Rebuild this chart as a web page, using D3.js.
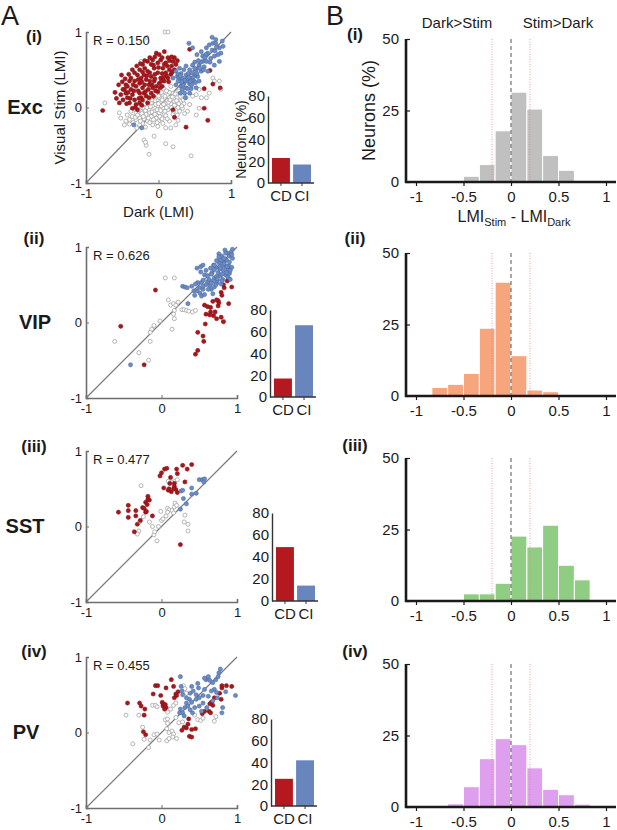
<!DOCTYPE html>
<html>
<head>
<meta charset="utf-8">
<script src="https://cdn.jsdelivr.net/npm/d3@7"></script>
<style>
  body { margin: 0; background: #fff; }
  svg text { font-family: "Liberation Sans", Arial, Helvetica, sans-serif !important; }
</style>
</head>
<body>
<div id="chart"></div>
<script>
// ---- data ----
var cellTypes = ["Exc", "VIP", "SST", "PV"];
var romans = ["(i)", "(ii)", "(iii)", "(iv)"];
var rValues = ["0.150", "0.626", "0.477", "0.455"];

var barCategories = ["CD", "CI"];
var cdPercent = [23, 17, 49, 25];
var ciPercent = [17, 66, 14, 42];

// histogram bin edges (LMI_Stim - LMI_Dark) and % neurons per bin
var binEdges = [-0.833, -0.667, -0.5, -0.333, -0.167, 0, 0.167, 0.333, 0.5, 0.667, 0.833];
var excHist = [0, 0, 2.0, 6.1, 17.9, 31.4, 25.5, 9.3, 4.1, 0];
var vipHist = [3.0, 4.1, 7.9, 23.7, 39.8, 14.1, 2.1, 1.5, 0, 0];
var sstHist = [0, 0, 2.5, 2.5, 6.2, 22.7, 18.9, 26.5, 12.5, 7.4];
var pvHist  = [0, 1.1, 7.1, 16.9, 23.9, 21.8, 13.7, 6.2, 4.3, 1.0];
var histColors = ["#c0c0c0", "#f6a57c", "#8fcd82", "#dea0ee"];

var histXTicks = [-1, -0.5, 0, 0.5, 1];
var histYTicks = [0, 25, 50];
var barYTicks = [0, 20, 40, 60, 80];
var scatterTicks = [-1, 0, 1];

// scatter points [Dark LMI, Visual Stim LMI]
var excGray = [[-0.47,-0.23],[-0.40,-0.16],[-0.43,-0.10],[-0.36,-0.12],[-0.31,-0.07],[-0.26,-0.14],[-0.24,-0.05],[-0.20,-0.01],[-0.17,-0.09],[-0.22,-0.21],[-0.15,-0.18],[-0.10,-0.12],[-0.13,-0.03],[-0.08,0.02],[-0.06,-0.05],[-0.03,-0.14],[0.01,-0.07],[-0.01,0.02],[0.03,0.08],[0.06,-0.01],[0.08,-0.09],[0.13,-0.03],[0.10,0.06],[0.15,0.13],[0.17,0.05],[0.22,0.08],[0.26,0.13],[0.24,0.02],[0.31,0.08],[0.33,-0.01],[0.29,-0.05],[0.20,-0.09],[0.15,-0.18],[0.06,-0.21],[-0.01,-0.25],[-0.08,-0.23],[0.10,-0.27],[-0.06,0.13],[0.06,0.17],[0.01,0.13],[0.13,0.21],[0.20,0.19],[0.17,0.28],[-0.03,0.06],[-0.10,0.06],[-0.26,-0.23],[-0.31,-0.16],[0.10,-0.11],[0.38,0.13],[0.43,0.04],[0.47,0.15],[0.52,0.17],[0.56,0.24],[0.59,0.13],[0.56,-0.01],[0.52,-0.10],[0.66,0.13],[0.70,0.19],[0.75,0.39],[0.77,0.35],[0.24,-0.23],[0.17,-0.27],[-0.74,0.06],[-0.54,-0.07],[-0.52,-0.14],[-0.20,-0.43],[-0.17,-0.50],[-0.06,-0.38],[0.10,-0.48],[0.20,-0.52],[-0.13,-0.62],[0.45,-0.64],[-0.18,-0.46],[0.09,1.0],[0.13,1.0],[-0.16,0.93],[-0.24,0.61],[0.03,0.61],[0.84,0.35],[0.86,0.24],[-0.33,-0.02],[-0.19,0.05],[-0.12,-0.07],[0.04,0.02],[0.12,0.09],[0.19,-0.02],[0.27,0.00],[0.35,0.05],[-0.05,0.09],[0.00,-0.18],[-0.20,-0.15],[0.07,0.25],[0.23,0.18],[-0.28,0.00],[0.40,-0.05],[-0.40,-0.22],[-0.14,0.08],[0.28,0.22],
  [-0.45,-0.18],[-0.38,-0.05],[-0.35,-0.20],[-0.32,-0.13],[-0.29,-0.10],[-0.27,-0.03],[-0.25,-0.18],[-0.23,-0.08],[-0.21,-0.12],[-0.18,-0.04],[-0.16,0.00],[-0.14,-0.14],[-0.12,-0.20],[-0.11,0.01],[-0.09,-0.06],[-0.07,-0.16],[-0.05,-0.09],[-0.04,0.04],[-0.02,-0.03],[0.00,0.05],[0.02,-0.12],[0.03,-0.04],[0.05,0.10],[0.07,0.04],[0.09,-0.05],[0.11,0.00],[0.12,-0.15],[0.14,0.07],[0.16,0.10],[0.18,0.00],[0.19,0.14],[0.21,-0.05],[0.22,0.03],[0.25,0.09],[0.26,-0.10],[0.28,0.05],[0.30,0.15],[0.32,0.02],[0.34,0.10],[0.36,-0.08],[0.27,-0.17],[0.05,-0.15],[-0.02,-0.20],[-0.18,-0.26],[-0.30,-0.27],[0.00,0.15],[0.09,0.15],[-0.09,0.10],[0.15,0.20],[0.11,0.22],[0.04,0.20]];
var excRed = [[-0.77,-0.04],[-0.51,0.43],[-0.47,0.24],[-0.45,0.19],[-0.43,0.13],[-0.40,0.06],[-0.54,0.06],[-0.49,0.10],[-0.38,0.24],[-0.36,0.17],[-0.33,0.10],[-0.31,0.04],[-0.29,-0.03],[-0.36,-0.01],[-0.26,0.06],[-0.24,0.13],[-0.26,0.19],[-0.31,0.28],[-0.33,0.35],[-0.26,0.32],[-0.22,0.26],[-0.20,0.19],[-0.17,0.15],[-0.22,0.10],[-0.15,0.06],[-0.13,0.13],[-0.10,0.19],[-0.08,0.26],[-0.13,0.30],[-0.17,0.37],[-0.20,0.43],[-0.15,0.48],[-0.10,0.41],[-0.06,0.35],[-0.03,0.28],[-0.01,0.21],[0.01,0.32],[0.03,0.39],[-0.01,0.46],[-0.06,0.52],[-0.10,0.57],[-0.15,0.61],[-0.01,0.59],[0.06,0.52],[0.10,0.46],[0.08,0.35],[0.13,0.39],[0.15,0.50],[0.10,0.59],[0.20,0.61],[0.17,0.44],[0.22,0.50],[0.13,0.66],[0.22,0.66],[0.03,0.63],[-0.08,0.63],[-0.22,0.57],[-0.26,0.50],[-0.40,0.35],[-0.45,0.30],[-0.49,0.24],[-0.43,0.28],[-0.38,0.39],[-0.29,0.43],[-0.24,0.39],[0.01,0.70],[-0.03,0.72],[0.08,0.74],[0.24,0.57],[0.43,0.77],[0.63,-0.01],[0.68,-0.17],[0.38,-0.26],[0.22,-0.13],[0.20,-0.03],[0.71,0.49],[0.75,0.31],[0.85,0.26],[0.63,0.25],[-0.35,0.30],[-0.28,0.22],[-0.18,0.21],[-0.12,0.35],[-0.05,0.44],[0.05,0.45],[-0.07,0.15],[-0.42,0.20],[-0.52,0.17],[-0.58,0.12],[0.12,0.55],[0.18,0.55],[-0.19,0.52],[-0.33,0.46],[-0.23,0.03],[0.05,0.28],[0.14,0.34],
  [-0.60,0.20],[-0.55,0.30],[-0.50,0.34],[-0.46,0.38],[-0.41,0.44],[-0.36,0.50],[-0.30,0.55],[-0.25,0.58],[-0.19,0.62],[-0.12,0.66],[-0.05,0.67],[0.05,0.66],[0.15,0.62],[0.19,0.47],[0.11,0.42],[0.07,0.40],[0.02,0.26],[-0.04,0.22],[-0.09,0.30],[-0.14,0.24],[-0.19,0.30],[-0.23,0.34],[-0.28,0.37],[-0.34,0.22],[-0.39,0.12],[-0.44,0.05],[-0.32,0.00],[-0.27,0.12],[-0.12,0.46],[-0.07,0.56],[0.00,0.53],[0.08,0.57],[0.18,0.67],[0.26,0.62],[-0.16,0.42],[-0.22,0.47],[-0.05,0.38],[0.04,0.35]];
var excBlue = [[0.24,0.48],[0.26,0.41],[0.29,0.35],[0.31,0.28],[0.33,0.24],[0.36,0.19],[0.38,0.26],[0.33,0.39],[0.38,0.43],[0.40,0.35],[0.43,0.31],[0.45,0.39],[0.47,0.46],[0.43,0.50],[0.38,0.55],[0.47,0.56],[0.52,0.50],[0.54,0.41],[0.49,0.35],[0.56,0.35],[0.59,0.48],[0.56,0.56],[0.61,0.61],[0.63,0.54],[0.66,0.61],[0.61,0.68],[0.68,0.72],[0.66,0.79],[0.70,0.83],[0.75,0.85],[0.79,0.85],[0.72,0.65],[0.77,0.68],[0.82,0.70],[0.84,0.79],[0.89,0.81],[0.77,0.56],[0.68,0.48],[0.42,0.85],[0.47,0.79],[0.53,0.70],[0.29,0.52],[0.20,0.39],[0.24,0.30],[0.30,0.19],[0.37,0.13],[0.43,0.19],[0.52,0.26],[0.84,0.61],[0.74,0.76],[0.59,0.74],[0.74,0.93],[0.79,0.90],[0.88,0.88],[-0.34,-0.23],[-0.23,-0.27],[0.35,0.32],[0.27,0.44],[0.41,0.45],[0.50,0.43],[0.45,0.25],[0.58,0.60],[0.65,0.70],[0.35,0.50],
  [0.28,0.40],[0.31,0.45],[0.34,0.30],[0.39,0.38],[0.42,0.40],[0.44,0.34],[0.48,0.40],[0.51,0.33],[0.46,0.30],[0.40,0.25],[0.36,0.36],[0.32,0.34],[0.53,0.45],[0.57,0.52],[0.62,0.50],[0.55,0.62],[0.50,0.60],[0.64,0.66],[0.71,0.60],[0.78,0.75],[0.86,0.72],[0.80,0.80],[0.27,0.35],[0.30,0.42],[0.50,0.52]];

var vipGray = [[0.05,0.59],[0.17,0.59],[0.09,0.30],[0.12,0.23],[0.16,0.25],[0.19,0.23],[0.22,0.27],[0.17,0.16],[0.16,0.11],[0.17,0.05],[0.14,-0.09],[0.27,0.17],[0.30,0.17],[0.33,0.16],[0.36,0.15],[0.41,0.14],[0.45,0.16],[-0.02,0.02],[-0.10,-0.04],[-0.13,-0.09],[-0.15,-0.13],[-0.15,-0.25],[-0.30,-0.40],[-0.17,-0.50],[-0.62,-0.25],[0.82,0.02]];
var vipRed = [[-0.08,0.43],[-0.54,-0.05],[-0.23,-0.56],[0.48,-0.13],[0.56,-0.25],[0.55,-0.18],[0.45,-0.42],[0.48,-0.37],[0.58,-0.02],[0.59,0.11],[0.57,0.23],[0.65,0.20],[0.65,0.14],[0.69,0.09],[0.73,0.05],[0.79,0.07],[0.82,0.01],[0.75,0.22],[0.76,0.26],[0.75,0.29],[0.79,0.40],[0.80,0.36],[0.83,0.46],[0.89,0.58],[0.87,0.55],[0.93,0.47],[0.89,0.25],[0.82,0.50],[0.68,0.28],[0.61,0.21],[0.71,0.14],[0.73,0.30],[0.64,0.10]];
var vipBlue = [[-0.41,-0.56],[0.28,0.48],[0.31,0.47],[0.34,0.46],[0.35,0.25],[0.43,0.42],[0.44,0.36],[0.47,0.42],[0.51,0.39],[0.53,0.35],[0.57,0.37],[0.50,0.46],[0.48,0.53],[0.53,0.53],[0.55,0.56],[0.47,0.72],[0.52,0.74],[0.55,0.76],[0.52,0.67],[0.57,0.63],[0.61,0.62],[0.61,0.54],[0.64,0.49],[0.66,0.44],[0.68,0.38],[0.70,0.47],[0.73,0.52],[0.70,0.59],[0.67,0.66],[0.65,0.72],[0.69,0.76],[0.72,0.73],[0.75,0.66],[0.78,0.62],[0.81,0.57],[0.79,0.51],[0.76,0.79],[0.78,0.83],[0.76,0.91],[0.80,0.88],[0.83,0.80],[0.85,0.74],[0.88,0.70],[0.90,0.65],[0.85,0.63],[0.82,0.69],[0.86,0.83],[0.90,0.88],[0.92,0.93],[0.94,0.97],[0.89,0.75],[0.93,0.73],[0.87,0.92],[0.84,0.96],[0.94,0.85],[0.73,0.82],[0.70,0.70],[0.73,0.61],[0.59,0.69],[0.63,0.57],[0.68,0.55],[0.74,0.56],[0.77,0.71],[0.80,0.75],[0.83,0.85],[0.88,0.60],[0.91,0.57],[0.59,0.50],[0.55,0.44],[0.40,0.48],[0.45,0.51],[0.78,0.72],[0.83,0.78],[0.86,0.66],[0.80,0.64],[0.70,0.76],[0.74,0.58],[0.66,0.52],[0.62,0.44],[0.90,0.80],[0.93,0.90],[0.85,0.92],[0.76,0.87],[0.87,0.74],[0.91,0.69],[0.80,0.55],[0.72,0.50],[0.55,0.48],[0.66,0.64]];

var sstGray = [[-0.27,0.54],[-0.30,-0.06],[-0.32,-0.10],[-0.29,0.06],[-0.24,0.13],[-0.16,0.06],[-0.12,0.00],[-0.10,-0.11],[-0.06,-0.19],[-0.09,-0.07],[-0.04,0.00],[0.00,0.08],[0.02,0.10],[0.06,0.14],[0.08,0.24],[0.10,0.22],[0.08,0.19],[0.14,0.21],[0.17,0.26],[0.18,0.31],[0.20,0.28],[0.14,0.59],[0.18,0.60],[0.21,0.62],[0.09,0.60],[0.31,0.15],[0.35,0.03],[0.30,0.06],[0.35,-0.06],[-0.01,0.20],[0.16,0.18]];
var sstRed = [[-0.57,0.19],[-0.44,0.28],[-0.44,0.21],[-0.44,0.12],[-0.34,0.21],[-0.34,0.14],[-0.32,0.03],[-0.36,-0.07],[-0.28,0.08],[-0.25,0.25],[-0.21,0.19],[-0.21,0.32],[-0.18,0.36],[-0.18,0.40],[-0.16,0.35],[-0.19,0.29],[-0.23,0.24],[-0.20,0.20],[-0.12,0.14],[-0.02,0.67],[0.04,0.76],[0.07,0.77],[0.00,0.71],[0.03,0.51],[0.09,0.48],[0.11,0.57],[0.12,0.65],[0.17,0.57],[0.20,0.76],[0.21,0.70],[0.17,0.53],[0.19,0.49],[0.16,0.50],[0.28,0.81],[0.31,0.59],[0.34,0.76],[0.40,0.82],[0.21,0.45],[0.25,-0.24],[0.10,0.50],[0.13,0.46]];
var sstBlue = [[0.26,0.47],[0.28,0.48],[0.29,0.37],[0.40,0.51],[0.33,0.30],[0.25,0.23],[0.40,0.43],[0.46,0.44],[0.50,0.62],[0.54,0.62],[0.57,0.63],[0.56,0.59]];

var pvGray = [[-0.47,0.23],[-0.38,-0.15],[-0.30,0.23],[-0.25,0.07],[-0.23,-0.09],[-0.17,-0.20],[-0.15,-0.10],[-0.12,0.36],[-0.08,0.36],[-0.06,0.34],[-0.10,-0.03],[-0.06,-0.02],[-0.03,-0.10],[0.05,0.17],[0.08,0.18],[0.08,0.12],[0.07,0.05],[0.10,0.00],[0.14,0.02],[0.16,-0.02],[0.07,-0.11],[0.10,-0.08],[0.15,-0.06],[0.20,-0.08],[0.23,0.13],[0.28,0.14],[0.12,0.31],[0.16,0.36],[0.19,0.39],[0.29,0.62],[0.31,0.58],[0.33,0.52],[0.44,0.23],[0.48,0.17],[0.52,0.16],[0.55,0.19],[0.70,0.15],[0.72,0.21],[0.19,0.20],[0.08,0.27]];
var pvRed = [[-0.45,0.39],[-0.29,0.39],[-0.27,0.35],[-0.23,0.23],[-0.22,0.31],[-0.24,0.01],[-0.21,-0.03],[-0.11,0.51],[-0.08,0.62],[-0.05,0.62],[0.06,0.59],[-0.01,0.49],[0.01,0.40],[0.02,0.38],[0.02,0.35],[0.05,0.37],[0.06,0.33],[0.04,0.31],[0.13,0.70],[0.16,0.61],[0.19,0.51],[0.20,0.49],[0.17,0.46],[0.22,0.54],[0.27,0.03],[0.30,0.07],[0.33,0.06],[0.35,0.11],[0.40,0.04],[0.37,-0.05],[0.40,-0.06],[0.36,0.18],[0.45,0.05],[0.54,0.25],[0.57,0.28],[0.63,0.28],[0.65,0.26],[0.70,0.46],[0.77,0.52],[0.80,0.59],[0.80,0.62],[0.86,0.62],[0.93,0.61],[0.66,0.40],[0.68,0.36],[0.79,0.44],[0.64,0.38]];
var pvBlue = [[0.25,0.74],[0.26,0.61],[0.27,0.55],[0.28,0.50],[0.33,0.39],[0.31,0.33],[0.25,0.31],[0.24,0.26],[0.28,0.26],[0.30,0.22],[0.35,0.35],[0.37,0.44],[0.38,0.52],[0.40,0.61],[0.42,0.55],[0.46,0.50],[0.49,0.59],[0.50,0.46],[0.55,0.49],[0.57,0.57],[0.59,0.70],[0.62,0.74],[0.57,0.72],[0.64,0.69],[0.68,0.66],[0.72,0.70],[0.76,0.79],[0.78,0.84],[0.75,0.74],[0.70,0.57],[0.66,0.55],[0.62,0.48],[0.55,0.39],[0.50,0.35],[0.44,0.33],[0.41,0.26],[0.38,0.30],[0.53,0.28],[0.60,0.33],[0.68,0.42],[0.74,0.46],[0.81,0.33],[0.80,0.26],[0.73,0.53],[0.98,0.49],[0.85,0.54],[0.46,0.44],[0.33,0.46],[0.40,0.40],[0.48,0.65]];

// ---- layout ----
var W = 617, H = 830;
var rows = [
  {sTop: 32,  sBot: 183, sRight: 231, bX: 268, bTop: 96,  bBot: 183, hTop: 39,  hBot: 182, nameX: 25, romanY: 42,  hRomanY: 40},
  {sTop: 247, sBot: 398, sRight: 237, bX: 270, bTop: 310, bBot: 397, hTop: 253, hBot: 396, nameX: 35, romanY: 244, hRomanY: 244},
  {sTop: 451, sBot: 602, sRight: 237, bX: 272, bTop: 513, bBot: 601, hTop: 458, hBot: 601, nameX: 25, romanY: 452, hRomanY: 451},
  {sTop: 657, sBot: 808, sRight: 237, bX: 271, bTop: 719, bBot: 806, hTop: 664, hBot: 807, nameX: 26, romanY: 657, hRomanY: 657}
];
var sLeft = 86;
var histData = [excHist, vipHist, sstHist, pvHist];
var scatterData = [
  {gray: excGray, red: excRed, blue: excBlue},
  {gray: vipGray, red: vipRed, blue: vipBlue},
  {gray: sstGray, red: sstRed, blue: sstBlue},
  {gray: pvGray,  red: pvRed,  blue: pvBlue}
];
var barData = cdPercent.map(function(cd, i) {
  return [{cat: barCategories[0], v: cd}, {cat: barCategories[1], v: ciPercent[i]}];
});

var redFill = "#a9171c", redStroke = "#7c1014";
var blueFill = "#6b8cc6", blueStroke = "#45639b";
var cdColor = "#b3191e", ciColor = "#6885be";
var txt = "#1a1a1a";

var svg = d3.select("#chart").append("svg")
  .attr("width", W).attr("height", H);

// panel letters
svg.append("text").attr("x", 1).attr("y", 25).attr("font-size", 27).attr("fill", txt).text("A");
svg.append("text").attr("x", 326).attr("y", 25).attr("font-size", 27).attr("fill", txt).text("B");
svg.append("text").attr("x", 457).attr("y", 28).attr("text-anchor", "middle")
  .attr("font-size", 15).attr("fill", txt).text("Dark>Stim");
svg.append("text").attr("x", 558).attr("y", 28).attr("text-anchor", "middle")
  .attr("font-size", 15).attr("fill", txt).text("Stim>Dark");

rows.forEach(function(L, i) {
  // ---------- scatter ----------
  var x = d3.scaleLinear().domain([-1, 1]).range([sLeft, L.sRight]);
  var y = d3.scaleLinear().domain([-1, 1]).range([L.sBot, L.sTop]);
  var g = svg.append("g");

  g.append("text").attr("x", 34).attr("y", L.romanY).attr("text-anchor", "middle")
    .attr("font-size", 17).attr("font-weight", "bold").attr("fill", txt).text(romans[i]);
  g.append("text").attr("x", L.nameX).attr("y", y(0) + 6).attr("text-anchor", "middle")
    .attr("font-size", 20).attr("font-weight", "bold").attr("fill", txt).text(cellTypes[i]);

  g.append("line")
    .attr("x1", x(-1)).attr("y1", y(-1)).attr("x2", x(1)).attr("y2", y(1))
    .attr("stroke", "#7a7a7a").attr("stroke-width", 1.2);

  var pts = scatterData[i];
  g.selectAll(".gray").data(pts.gray).enter().append("circle")
    .attr("cx", function(d) { return x(d[0]); })
    .attr("cy", function(d) { return y(d[1]); })
    .attr("r", 2).attr("fill", "#fff").attr("stroke", "#a3a3a3").attr("stroke-width", 0.8);
  g.selectAll(".red").data(pts.red).enter().append("circle")
    .attr("cx", function(d) { return x(d[0]); })
    .attr("cy", function(d) { return y(d[1]); })
    .attr("r", 2.1).attr("fill", redFill).attr("stroke", redStroke).attr("stroke-width", 0.5);
  g.selectAll(".blue").data(pts.blue).enter().append("circle")
    .attr("cx", function(d) { return x(d[0]); })
    .attr("cy", function(d) { return y(d[1]); })
    .attr("r", 2.1).attr("fill", blueFill).attr("stroke", blueStroke).attr("stroke-width", 0.5);

  var xAx = g.append("g").attr("transform", "translate(0," + L.sBot + ")")
    .call(d3.axisBottom(x).tickValues(scatterTicks).tickSize(-3).tickPadding(6)
      .tickFormat(function(d) { return String(d); }));
  var yAx = g.append("g").attr("transform", "translate(" + sLeft + ",0)")
    .call(d3.axisLeft(y).tickValues(scatterTicks).tickSize(-3).tickPadding(4)
      .tickFormat(function(d) { return String(d); }));
  [xAx, yAx].forEach(function(a) {
    a.select(".domain").attr("stroke", "#6e6e6e").attr("stroke-width", 1.6);
    a.selectAll(".tick line").attr("stroke", "#6e6e6e");
    a.selectAll("text").attr("font-size", 13).attr("fill", txt);
  });

  g.append("text").attr("x", sLeft + 7).attr("y", L.sTop + 13)
    .attr("font-size", 13).attr("fill", txt).text("R = " + rValues[i]);

  if (i === 0) {
    g.append("text").attr("transform", "translate(65," + y(0) + ") rotate(-90)")
      .attr("text-anchor", "middle").attr("font-size", 15).attr("fill", txt)
      .text("Visual Stim (LMI)");
    g.append("text").attr("x", x(0)).attr("y", L.sBot + 34).attr("text-anchor", "middle")
      .attr("font-size", 15).attr("fill", txt).text("Dark (LMI)");
  }

  // ---------- CD / CI bar inset ----------
  var bx = d3.scaleBand().domain(barCategories).range([L.bX + 4, L.bX + 43])
    .paddingInner(0.15).paddingOuter(0);
  var by = d3.scaleLinear().domain([0, 80]).range([L.bBot, L.bTop]);
  var bg = svg.append("g");
  bg.selectAll("rect").data(barData[i]).enter().append("rect")
    .attr("x", function(d) { return bx(d.cat); })
    .attr("y", function(d) { return by(d.v); })
    .attr("width", bx.bandwidth())
    .attr("height", function(d) { return L.bBot - by(d.v); })
    .attr("fill", function(d, j) { return j === 0 ? cdColor : ciColor; });

  var byAx = bg.append("g").attr("transform", "translate(" + L.bX + ",0)")
    .call(d3.axisLeft(by).tickValues(barYTicks).tickSize(0).tickPadding(3));
  byAx.select(".domain").attr("stroke", "#333").attr("stroke-width", 1.4);
  byAx.selectAll("text").attr("font-size", 15).attr("fill", txt);

  var bxAx = bg.append("g").attr("transform", "translate(0," + L.bBot + ")")
    .call(d3.axisBottom(bx).tickSize(3).tickSizeOuter(0).tickPadding(4));
  bxAx.select(".domain").remove();
  bxAx.selectAll(".tick line").attr("stroke", "#333");
  bxAx.selectAll("text").attr("font-size", 15).attr("fill", txt);
  bg.append("line").attr("x1", L.bX).attr("x2", L.bX + 46)
    .attr("y1", L.bBot).attr("y2", L.bBot).attr("stroke", "#333").attr("stroke-width", 1.4);

  if (i === 0) {
    bg.append("text").attr("transform", "translate(246," + by(40) + ") rotate(-90)")
      .attr("text-anchor", "middle").attr("font-size", 14).attr("fill", txt).text("Neurons (%)");
  }

  // ---------- histogram ----------
  var hx = d3.scaleLinear().domain([-1, 1]).range([416, 606]);
  var hy = d3.scaleLinear().domain([0, 50]).range([L.hBot, L.hTop]);
  var hg = svg.append("g");

  hg.append("text").attr("x", 355).attr("y", L.hRomanY).attr("text-anchor", "middle")
    .attr("font-size", 17).attr("font-weight", "bold").attr("fill", txt).text(romans[i]);

  var bins = histData[i].map(function(v, j) {
    return {x0: binEdges[j], x1: binEdges[j + 1], v: v};
  }).filter(function(d) { return d.v > 0; });

  hg.selectAll("rect").data(bins).enter().append("rect")
    .attr("x", function(d) { return hx(d.x0); })
    .attr("y", function(d) { return hy(d.v); })
    .attr("width", function(d) { return hx(d.x1) - hx(d.x0); })
    .attr("height", function(d) { return L.hBot - hy(d.v); })
    .attr("fill", histColors[i]).attr("stroke", "#fff").attr("stroke-width", 1);

  [-0.2, 0.2].forEach(function(v) {
    hg.append("line").attr("x1", hx(v)).attr("x2", hx(v))
      .attr("y1", hy(50)).attr("y2", L.hBot)
      .attr("stroke", "#ee7f86").attr("stroke-width", 0.8).attr("stroke-dasharray", "1,1.5");
  });
  hg.append("line").attr("x1", hx(0)).attr("x2", hx(0))
    .attr("y1", hy(50)).attr("y2", L.hBot)
    .attr("stroke", "#555").attr("stroke-width", 1).attr("stroke-dasharray", "4,3");

  var hxAx = hg.append("g").attr("transform", "translate(0," + L.hBot + ")")
    .call(d3.axisBottom(hx).tickValues(histXTicks).tickSize(4).tickSizeOuter(0).tickPadding(5)
      .tickFormat(function(d) { return String(d); }));
  hxAx.select(".domain").remove();
  hg.append("line").attr("x1", 405).attr("x2", 616).attr("y1", L.hBot).attr("y2", L.hBot)
    .attr("stroke", "#1a1a1a").attr("stroke-width", 2.6);
  var hyAx = hg.append("g").attr("transform", "translate(406,0)")
    .call(d3.axisLeft(hy).tickValues(histYTicks).tickSize(-4).tickSizeOuter(0).tickPadding(7));
  hyAx.select(".domain").remove();
  hg.append("line").attr("x1", 406).attr("x2", 406).attr("y1", L.hTop).attr("y2", L.hBot + 1)
    .attr("stroke", "#1a1a1a").attr("stroke-width", 2.6);
  [hxAx, hyAx].forEach(function(a) {
    a.selectAll(".tick line").attr("stroke", "#1a1a1a").attr("stroke-width", 1.2);
    a.selectAll("text").attr("font-size", 15).attr("fill", txt);
  });

  if (i === 0) {
    hg.append("text").attr("transform", "translate(375," + hy(25) + ") rotate(-90)")
      .attr("text-anchor", "middle").attr("font-size", 18).attr("fill", txt).text("Neurons (%)");
    var lab = hg.append("text").attr("x", 514).attr("y", 222).attr("text-anchor", "middle")
      .attr("font-size", 16).attr("fill", txt);
    lab.append("tspan").text("LMI");
    lab.append("tspan").attr("font-size", 11).attr("dy", 4).text("Stim");
    lab.append("tspan").attr("dy", -4).text(" - LMI");
    lab.append("tspan").attr("font-size", 11).attr("dy", 4).text("Dark");
  }
});
</script>
</body>
</html>
